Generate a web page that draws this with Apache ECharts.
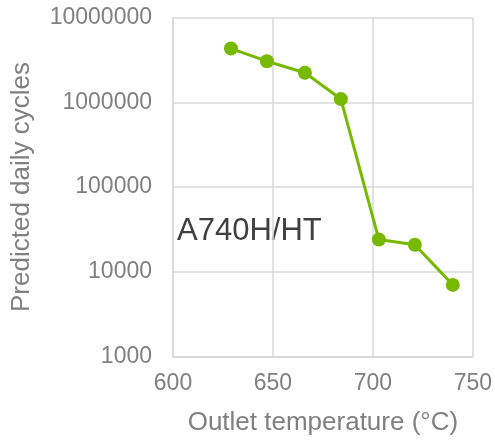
<!DOCTYPE html>
<html>
<head>
<meta charset="utf-8">
<script src="https://cdn.jsdelivr.net/npm/echarts@6/dist/echarts.min.js"></script>
<style>html,body{margin:0;padding:0;background:#fff;}#c{width:495px;height:441px;}</style>
</head>
<body>
<div id="c"></div>
<script>
var temperatures = [629, 647, 666, 684, 703, 721, 740];
var dailyCycles = [4300000, 3050000, 2230000, 1090000, 24000, 20800, 7000];
var xTicks = [600, 650, 700, 750];
var yTicks = [1000, 10000, 100000, 1000000, 10000000];
var annotation = 'A740H/HT';

var chart = echarts.init(document.getElementById('c'), null, {renderer: 'canvas'});
var font = '"Liberation Sans", Arial, sans-serif';
chart.setOption({
  animation: false,
  grid: {left: 173, right: 22, top: 17.5, bottom: 84.5, containLabel: false},
  xAxis: {
    type: 'value',
    min: xTicks[0], max: xTicks[xTicks.length - 1], interval: 50,
    name: 'Outlet temperature (°C)',
    nameLocation: 'middle', nameGap: 53,
    nameTextStyle: {color: '#808080', fontSize: 26, fontFamily: font},
    axisLine: {show: true, lineStyle: {color: '#d9d9d9', width: 1.5}},
    axisTick: {show: false},
    axisLabel: {color: '#808080', fontSize: 23, fontFamily: font, margin: 16},
    splitLine: {show: true, lineStyle: {color: '#d9d9d9', width: 1.5}}
  },
  yAxis: {
    type: 'log', logBase: 10,
    min: yTicks[0], max: yTicks[yTicks.length - 1],
    name: 'Predicted daily cycles',
    nameLocation: 'middle', nameGap: 138,
    nameTextStyle: {color: '#808080', fontSize: 26, fontFamily: font},
    axisLine: {show: true, lineStyle: {color: '#d9d9d9', width: 1.5}},
    axisTick: {show: false},
    axisLabel: {color: '#808080', fontSize: 23, fontFamily: font, margin: 21,
      formatter: function (v) { return String(Math.round(v)); }},
    splitLine: {show: true, lineStyle: {color: '#d9d9d9', width: 1.5}}
  },
  graphic: [{
    type: 'text', left: 177, top: 216,
    style: {text: annotation, fill: '#404040', font: '31px ' + font}
  }],
  series: [{
    type: 'line',
    data: temperatures.map(function (t, i) { return [t, dailyCycles[i]]; }),
    symbol: 'circle', symbolSize: 14,
    lineStyle: {color: '#76b900', width: 3},
    itemStyle: {color: '#76b900'}
  }]
});
</script>
</body>
</html>
